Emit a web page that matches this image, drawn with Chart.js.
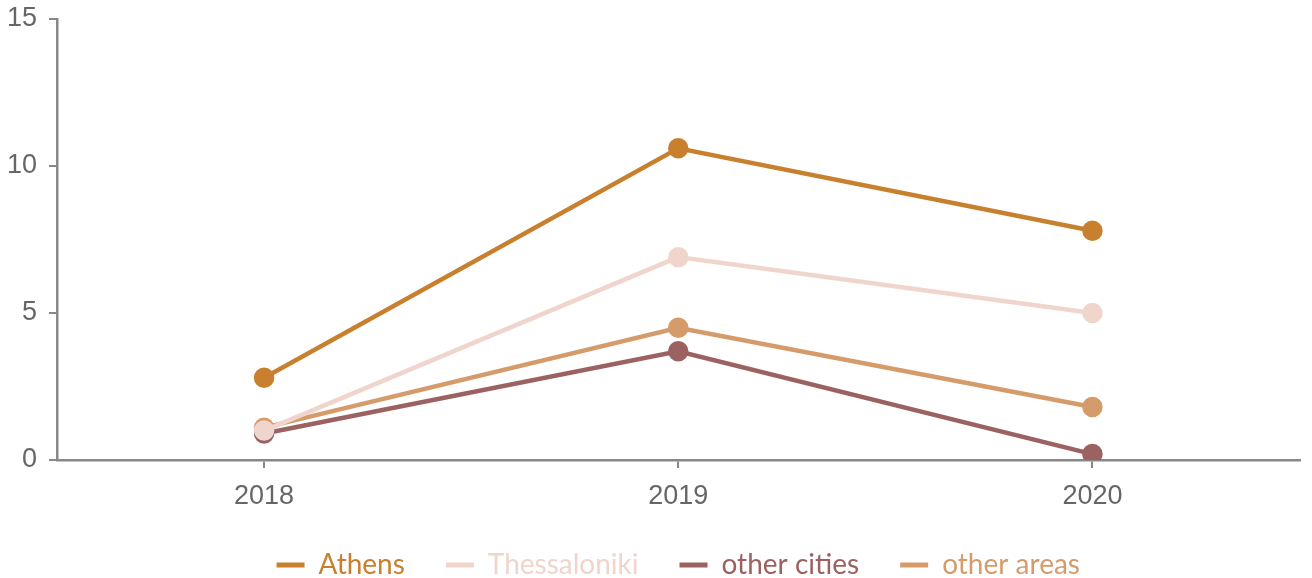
<!DOCTYPE html>
<html>
<head>
<meta charset="utf-8">
<script src="https://cdn.jsdelivr.net/npm/chart.js@4"></script>
<style>
html,body{margin:0;padding:0;background:#fff;}
#wrap{width:1312px;height:578px;}
</style>
</head>
<body>
<div id="wrap"><canvas id="c" width="1312" height="578"></canvas></div>
<script>
const categories = ['2018', '2019', '2020'];
const athens = [2.8, 10.6, 7.8];
const thessaloniki = [1.0, 6.9, 5.0];
const otherCities = [0.9, 3.7, 0.2];
const otherAreas = [1.1, 4.5, 1.8];
const seriesNames = ['Athens', 'Thessaloniki', 'other cities', 'other areas'];
const colors = ['#c8802f', '#efd5cc', '#9c6262', '#d59b6a'];
const yTicks = [0, 5, 10, 15];

const seriesData = [athens, thessaloniki, otherCities, otherAreas];
const datasets = seriesData.map((d, i) => ({
  label: seriesNames[i],
  data: d,
  borderColor: colors[i],
  backgroundColor: colors[i],
  pointBackgroundColor: colors[i],
  pointBorderColor: colors[i],
  borderWidth: 4.5,
  pointRadius: 8,
  pointHoverRadius: 8,
  tension: 0
}));

const legendAdj = {
  id: 'legendAdj',
  afterInit(chart) {
    const lg = chart.legend;
    if (!lg) return;
    const orig = lg.fit.bind(lg);
    lg.fit = function () {
      orig();
      this.height = Math.max(0, this.height - 11);
      if (this.minSize) this.minSize.height = this.height;
    };
  }
};

new Chart(document.getElementById('c'), {
  type: 'line',
  data: { labels: categories, datasets },
  plugins: [legendAdj],
  options: {
    responsive: false,
    animation: false,
    devicePixelRatio: 1,
    layout: { padding: { top: 1, right: 0, left: 0, bottom: 0 } },
    plugins: {
      tooltip: { enabled: false },
      legend: {
        position: 'bottom',
        fullSize: false,
        labels: {
          font: { family: 'Lato', size: 28 },
          boxWidth: 28,
          boxHeight: 5,
          padding: 41,
          generateLabels(chart) {
            return chart.data.datasets.map((ds, i) => ({
              text: ds.label,
              fillStyle: ds.borderColor,
              strokeStyle: ds.borderColor,
              lineWidth: 0,
              fontColor: ds.borderColor,
              datasetIndex: i,
              hidden: false
            }));
          }
        }
      }
    },
    scales: {
      x: {
        offset: true,
        afterFit(scale) { scale.height = 50; scale.paddingRight = 0; scale.paddingLeft = 0; },
        grid: { display: true, drawOnChartArea: false, drawTicks: true, tickLength: 8, color: '#888', lineWidth: 2 },
        border: { display: true, color: '#888', width: 2.5 },
        ticks: { color: '#666', font: { family: 'Liberation Sans', size: 27 }, padding: 12 }
      },
      y: {
        min: 0,
        max: 15,
        afterBuildTicks(axis) { axis.ticks = yTicks.map(v => ({ value: v })); },
        afterFit(scale) { scale.width = 57; scale.paddingTop = 19; },
        grid: { display: true, drawOnChartArea: false, drawTicks: true, tickLength: 8, color: '#888', lineWidth: 2 },
        border: { display: true, color: '#888', width: 2.5 },
        ticks: { color: '#666', font: { family: 'Liberation Sans', size: 27 }, padding: 12 }
      }
    }
  }
});
</script>
</body>
</html>
